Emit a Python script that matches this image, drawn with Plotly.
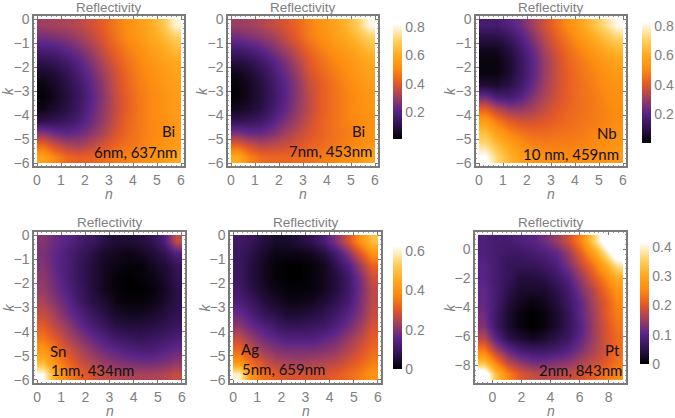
import plotly.graph_objects as go

# Reflectivity sampled on 12x12 cells; rows run from the top of each panel downward.
bi_637 = [
 [.31,.32,.33,.35,.38,.42,.47,.52,.56,.61,.68,.80],
 [.25,.26,.28,.31,.35,.40,.46,.51,.55,.59,.64,.70],
 [.18,.19,.22,.26,.31,.37,.43,.48,.52,.56,.60,.65],
 [.11,.13,.16,.21,.27,.34,.40,.46,.50,.54,.57,.60],
 [.06,.08,.12,.18,.24,.31,.38,.44,.49,.52,.55,.58],
 [.03,.06,.10,.15,.22,.29,.37,.43,.48,.51,.54,.57],
 [.02,.05,.09,.14,.21,.28,.36,.42,.47,.50,.53,.56],
 [.04,.07,.10,.15,.22,.29,.36,.42,.47,.50,.53,.56],
 [.11,.12,.14,.18,.24,.30,.37,.43,.47,.50,.52,.55],
 [.28,.24,.22,.24,.28,.33,.39,.44,.47,.50,.52,.55],
 [.44,.37,.33,.32,.35,.39,.43,.46,.48,.51,.53,.56],
 [.58,.50,.44,.42,.43,.45,.47,.49,.51,.53,.56,.60],
]
bi_453 = [
 [.30,.31,.33,.36,.39,.43,.48,.53,.57,.62,.69,.80],
 [.24,.26,.28,.31,.36,.41,.47,.51,.55,.59,.64,.70],
 [.16,.18,.21,.26,.31,.37,.43,.48,.52,.55,.59,.64],
 [.09,.11,.15,.20,.26,.33,.40,.45,.49,.52,.56,.59],
 [.04,.07,.11,.17,.23,.30,.38,.43,.47,.50,.54,.57],
 [.02,.05,.09,.15,.21,.28,.36,.41,.45,.49,.52,.55],
 [.02,.05,.09,.14,.21,.28,.35,.41,.45,.48,.51,.54],
 [.05,.07,.10,.16,.22,.29,.35,.41,.45,.48,.51,.53],
 [.12,.13,.15,.20,.26,.31,.37,.42,.45,.48,.50,.52],
 [.26,.23,.23,.26,.31,.35,.39,.42,.45,.47,.49,.52],
 [.42,.37,.34,.35,.37,.39,.42,.44,.46,.48,.50,.53],
 [.60,.49,.44,.43,.43,.44,.45,.47,.49,.51,.53,.58],
]
nb_459 = [
 [.16,.16,.19,.24,.31,.38,.45,.52,.59,.66,.74,.82],
 [.09,.09,.13,.19,.27,.35,.42,.48,.54,.60,.66,.72],
 [.04,.04,.08,.15,.23,.32,.39,.45,.50,.55,.60,.64],
 [.02,.02,.06,.13,.21,.30,.37,.43,.47,.51,.55,.58],
 [.02,.02,.06,.13,.21,.30,.37,.42,.46,.49,.52,.55],
 [.07,.06,.09,.15,.23,.31,.37,.42,.45,.48,.51,.53],
 [.24,.17,.16,.20,.27,.33,.38,.42,.45,.47,.50,.52],
 [.42,.34,.29,.29,.32,.36,.40,.43,.45,.47,.49,.51],
 [.56,.47,.41,.38,.38,.40,.42,.44,.46,.47,.49,.51],
 [.66,.57,.50,.46,.44,.44,.45,.46,.47,.49,.50,.52],
 [.74,.65,.58,.52,.49,.48,.48,.48,.49,.50,.52,.54],
 [.84,.72,.63,.57,.54,.52,.51,.51,.51,.52,.53,.55],
]
sn_434 = [
 [.20,.17,.15,.12,.10,.07,.05,.05,.06,.08,.13,.27],
 [.19,.16,.13,.10,.07,.04,.03,.02,.03,.05,.08,.14],
 [.20,.16,.13,.09,.06,.03,.02,.01,.01,.03,.05,.09],
 [.21,.17,.13,.09,.06,.03,.01,.00,.01,.02,.04,.08],
 [.22,.18,.14,.10,.06,.03,.01,.00,.00,.01,.03,.07],
 [.24,.20,.16,.11,.07,.05,.02,.01,.01,.02,.04,.07],
 [.27,.23,.18,.14,.10,.07,.04,.03,.03,.04,.06,.08],
 [.31,.26,.22,.17,.13,.10,.07,.06,.06,.07,.08,.10],
 [.35,.30,.25,.21,.17,.14,.11,.10,.09,.10,.11,.13],
 [.41,.35,.29,.25,.21,.18,.16,.14,.13,.13,.15,.17],
 [.48,.39,.33,.28,.25,.22,.20,.19,.18,.18,.19,.21],
 [.62,.45,.37,.32,.29,.27,.25,.24,.24,.24,.25,.27],
]
ag_659 = [
 [.11,.09,.06,.04,.04,.06,.08,.13,.20,.29,.40,.50],
 [.10,.07,.04,.02,.02,.02,.03,.06,.12,.20,.30,.40],
 [.10,.06,.03,.01,.00,.00,.01,.03,.08,.14,.23,.32],
 [.10,.06,.03,.01,.00,.00,.01,.03,.06,.11,.19,.28],
 [.11,.07,.04,.02,.01,.01,.01,.03,.06,.11,.18,.26],
 [.13,.10,.06,.04,.02,.02,.03,.05,.08,.12,.19,.26],
 [.17,.13,.09,.07,.05,.05,.06,.08,.11,.15,.20,.27],
 [.21,.17,.14,.11,.09,.09,.10,.11,.14,.18,.23,.29],
 [.27,.22,.18,.16,.14,.14,.14,.16,.18,.22,.26,.31],
 [.33,.27,.23,.20,.19,.19,.19,.20,.22,.25,.29,.33],
 [.40,.33,.28,.25,.24,.23,.24,.25,.26,.29,.32,.36],
 [.60,.40,.34,.31,.29,.29,.29,.29,.31,.33,.36,.40],
]
pt_843 = [
 [.09,.08,.08,.09,.10,.12,.15,.19,.25,.35,.45,.55],
 [.09,.08,.07,.07,.08,.09,.11,.15,.21,.28,.37,.47],
 [.10,.08,.06,.06,.06,.07,.09,.13,.18,.23,.30,.38],
 [.10,.08,.06,.04,.04,.05,.07,.10,.15,.20,.25,.31],
 [.11,.08,.05,.03,.03,.03,.05,.08,.13,.17,.22,.27],
 [.11,.08,.04,.02,.01,.02,.04,.07,.11,.16,.20,.25],
 [.12,.07,.03,.01,.00,.01,.03,.06,.11,.15,.20,.24],
 [.13,.07,.03,.01,.00,.01,.03,.06,.10,.15,.19,.23],
 [.17,.10,.05,.03,.02,.03,.05,.07,.11,.15,.19,.22],
 [.24,.16,.11,.08,.07,.07,.08,.10,.13,.16,.19,.22],
 [.33,.24,.17,.14,.12,.12,.13,.14,.16,.18,.20,.23],
 [.46,.33,.25,.20,.18,.17,.17,.18,.19,.21,.23,.25],
]

W, H = 675, 418
GREY = "#808080"
SANS = "Liberation Sans"

sunset = [
    [0.00, "#000000"], [0.06, "#180a28"], [0.13, "#311352"], [0.25, "#5a2588"], [0.37, "#a0405f"],
    [0.49, "#e55a26"], [0.61, "#fd8c10"], [0.73, "#ffab20"], [0.85, "#ffd060"],
    [1.00, "#ffffff"],
]

panels = [
    dict(z=bi_637, frame=(34, 184, 16, 166), x=(0, 6), y=(-6, 0), pad=.125, zr=(.01, .83), bar=None,
         xt=list(range(0, 7)), yt=list(range(-6, 1))),
    dict(z=bi_453, frame=(228, 378, 16, 166), x=(0, 6), y=(-6, 0), pad=.125, zr=(.01, .82),
         bar=(393, 24, 139, [.2, .4, .6, .8]), xt=list(range(0, 7)), yt=list(range(-6, 1))),
    dict(z=nb_459, frame=(476, 626, 16, 166), x=(0, 6), y=(-6, 0), pad=.125, zr=(0, .83),
         bar=(642, 22, 143, [.2, .4, .6, .8]), xt=list(range(0, 7)), yt=list(range(-6, 1))),
    dict(z=sn_434, frame=(34, 185, 232, 383), x=(0, 6), y=(-6, 0), pad=.125, zr=(0, .625), bar=None,
         xt=list(range(0, 7)), yt=list(range(-6, 1))),
    dict(z=ag_659, frame=(230, 381, 232, 383), x=(0, 6), y=(-6, 0), pad=.125, zr=(0, .625),
         bar=(393, 246, 369, [0, .2, .4, .6]), xt=list(range(0, 7)), yt=list(range(-6, 1))),
    dict(z=pt_843, frame=(475, 626, 232, 383), x=(-1, 9), y=(-9, 1), pad=.2, zr=(0, .417),
         bar=(640, 242, 364, [0, .1, .2, .3, .4]), xt=list(range(0, 10, 2)), yt=list(range(-8, 1, 2))),
]

# Sample labels: text, centre x, centre y in page pixels.
labels = [
    ("Bi", 168, 131), ("6nm, 637nm", 135, 152),
    ("Bi", 359, 131), ("7nm, 453nm", 330, 151),
    ("Nb", 607, 133), ("10 nm, 459nm", 571, 154),
    ("Sn", 58, 351), ("1nm, 434nm", 92, 370),
    ("Ag", 250, 349), ("5nm, 659nm", 283, 369),
    ("Pt", 612, 350), ("2nm, 843nm", 580, 370),
]


def px(x):
    return x / W


def py(y):
    return 1 - y / H


def edges(lo, hi, n=12):
    return [lo + (hi - lo) * i / n for i in range(n + 1)]


fig = go.Figure()
notes = []
layout = {}
for i, p in enumerate(panels, start=1):
    left, right, top, bottom = p["frame"]
    key = "" if i == 1 else str(i)
    trace = dict(
        z=p["z"], x=edges(*p["x"]), y=edges(p["y"][1], p["y"][0]),
        zmin=p["zr"][0], zmax=p["zr"][1], zsmooth="best",
        colorscale=sunset, showscale=p["bar"] is not None,
        xaxis="x" + key, yaxis="y" + key, hoverinfo="skip",
    )
    if p["bar"]:
        bx, btop, bbot, ticks = p["bar"]
        trace["colorbar"] = dict(
            x=px(bx), xanchor="left", xpad=0, ypad=0, thickness=9,
            y=py((btop + bbot) / 2), yanchor="middle", lenmode="pixels", len=bbot - btop,
            outlinewidth=0, ticks="", tickvals=ticks, ticktext=[str(t) for t in ticks],
            tickfont=dict(family=SANS, size=14, color=GREY),
        )
    fig.add_trace(go.Heatmap(**trace))
    minor_x = (p["x"][1] - p["x"][0]) / 30
    common = dict(
        showgrid=False, zeroline=False, showline=True, mirror="ticks", linecolor="#7a7a7a", linewidth=1.5,
        ticks="inside", ticklen=3, tickwidth=1, tickcolor="#7a7a7a",
        tickfont=dict(family=SANS, size=14, color=GREY),
        minor=dict(ticks="inside", ticklen=1.5, tickwidth=1, tickcolor="#999999", dtick=minor_x),
    )
    layout["xaxis" + key] = dict(
        common, domain=[px(left), px(right)], anchor="y" + key,
        range=[p["x"][0] - p["pad"], p["x"][1] + p["pad"]], tickvals=p["xt"],
    )
    layout["yaxis" + key] = dict(
        common, domain=[py(bottom), py(top)], anchor="x" + key,
        range=[p["y"][0] - p["pad"], p["y"][1] + p["pad"]], tickvals=p["yt"],
    )
    cx = (left + right) / 2
    notes.append(dict(text="Reflectivity", x=px(cx), y=py(top - 9), font=dict(family=SANS, size=13.5, color=GREY)))
    notes.append(dict(text="<i>n</i>", x=px(cx), y=py(bottom + 28), font=dict(family=SANS, size=14, color=GREY)))
    notes.append(dict(text="<i>k</i>", x=px(left - 26), y=py((top + bottom) / 2), textangle=-90,
                      font=dict(family=SANS, size=14, color=GREY)))

for text, x, y in labels:
    notes.append(dict(text=text, x=px(x), y=py(y), font=dict(family="Lato", size=15, color="#111111")))

for n in notes:
    n.update(xref="paper", yref="paper", xanchor="center", yanchor="middle", showarrow=False)

fig.update_layout(
    width=W, height=H, paper_bgcolor="white", plot_bgcolor="white",
    margin=dict(l=0, r=0, t=0, b=0, autoexpand=False),
    annotations=notes, **layout,
)
fig.write_html("out.html")
